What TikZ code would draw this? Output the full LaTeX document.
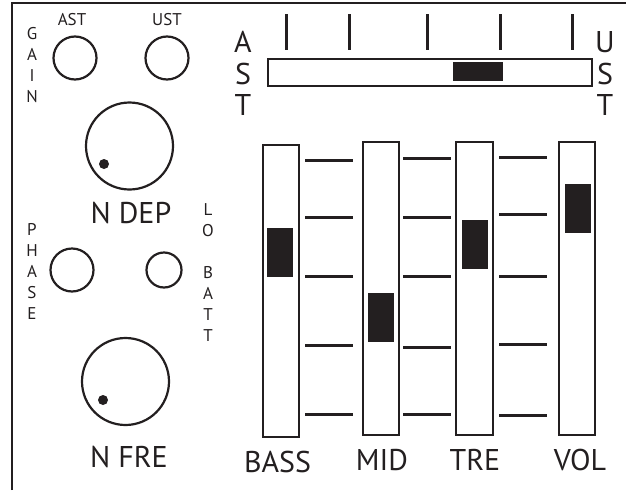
\documentclass[tikz,border=0pt]{standalone}
\usepackage{fontspec}
\setmainfont{PT Sans}
\definecolor{ink}{HTML}{231F20}

\tikzset{
  knob/.style={draw, circle, inner sep=0pt, line width=2.2pt},
  dot/.style={fill=ink, circle, inner sep=0pt, minimum size=10pt},
  lbl/.style={font=\fontsize{17}{21}\selectfont, align=center, inner sep=0pt},
  big/.style={font=\fontsize{30}{31.5}\selectfont, align=center, inner sep=0pt},
  slot/.style={draw, rectangle, inner sep=0pt, line width=2.4pt, minimum width=36pt, minimum height=293pt},
  thumb/.style={fill=ink, inner sep=0pt, minimum width=26pt, minimum height=49pt},
  tick/.style={line width=3pt}
}

\begin{document}
\begin{tikzpicture}[x=1pt, y=-1pt, color=ink]
        \useasboundingbox (0,0) rectangle (626,490);

        % panel edge
        \draw[line width=2.5pt] (12,490) -- (12,3) -- (626,3);

        % left column
        \node[lbl] (gain) at (32,65.5) {G\\A\\I\\N};
        \node[lbl] (astlbl) at (72,20) {AST};
        \node[lbl] (ustlbl) at (167,20) {UST};
        \node[knob, minimum size=43pt] (ast) at (75,58) {};
        \node[knob, minimum size=43pt] (ust) at (167,58) {};

        \node[knob, minimum size=87pt] (ndep) at (129.5,146) {};
        \node[dot] (ndepdot) at (104,164) {};
        \node[big] (ndeplbl) at (131,213) {N DEP};

        \node[lbl] (phaselbl) at (32,271) {P\\H\\A\\S\\E};
        \node[knob, minimum size=43pt] (phase) at (72,270) {};
        \node[knob, minimum size=35pt] (lobatt) at (164,270) {};
        \node[lbl] (lobattlbl) at (208,273) {L\\O\\[21pt]B\\A\\T\\T};

        \node[knob, minimum size=87pt] (nfre) at (125.5,381.5) {};
        \node[dot] (nfredot) at (103,400) {};
        \node[big] (nfrelbl) at (129,457) {N FRE};

        % balance slider
        \node[big] (astside) at (243,73.5) {A\\S\\T};
        \node[big] (ustside) at (605,73.5) {U\\S\\T};
        \node[slot, minimum width=324pt, minimum height=27pt] (bal) at (430,72.5) {};
        \node[thumb, minimum width=50pt, minimum height=19pt] (balthumb) at (478,71.5) {};
        \foreach \x in {286,349,427,500,572}
            \draw[tick] (\x,14) -- (\x,50);

        % tone sliders
        \node[slot, minimum height=292pt] (bass) at (281,291) {};
        \node[slot] (mid) at (381,288.5) {};
        \node[slot, minimum width=37pt] (tre) at (474.5,288.5) {};
        \node[slot] (vol) at (577,288.5) {};

        \node[thumb] (bassthumb) at (280,252.5) {};
        \node[thumb] (midthumb) at (381,317.5) {};
        \node[thumb] (trethumb) at (475,244.5) {};
        \node[thumb] (volthumb) at (578,208.5) {};

        \foreach \y in {160,217,276,345,414}
            \draw[tick] (305,\y) -- (353,\y);
        \foreach \y in {158,217,276,347,414}
            \draw[tick] (403,\y) -- (451,\y);
        \foreach \y in {157,214,276,344,415}
            \draw[tick] (499,\y) -- (547,\y);

        \node[big] (basslbl) at (277.5,462) {BASS};
        \node[big] (midlbl) at (382,460) {MID};
        \node[big] (trelbl) at (475,460) {TRE};
        \node[big] (vollbl) at (580,460) {VOL};

    \end{tikzpicture}
\end{document}
